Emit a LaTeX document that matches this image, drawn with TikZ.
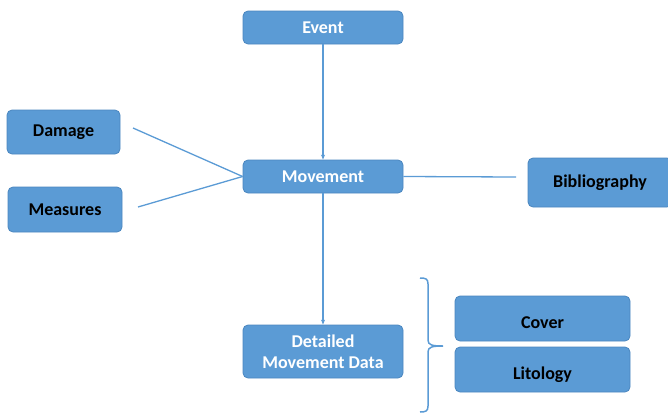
\documentclass[tikz,border=0pt]{standalone}
\usepackage{fontspec}
\setmainfont{Carlito}
\usetikzlibrary{arrows.meta}
\definecolor{boxfill}{HTML}{5B9BD5}
\definecolor{boxline}{HTML}{4A86BF}
\definecolor{conn}{HTML}{5B9BD5}
\begin{document}
\begin{tikzpicture}[x=1pt,y=-1pt,
  box/.style={draw=boxline, line width=0.8pt, fill=boxfill, rounded corners=5pt, inner sep=0pt, align=center, font=\fontsize{18}{21}\selectfont\bfseries},
  wbox/.style={box, text=white},
  kbox/.style={box, text=black},
  lowtext/.style={text height=20pt, text depth=1pt},
  link/.style={draw=conn, line width=1.3pt},
  arr/.style={link, -{Stealth[length=5pt,width=4pt]}}]
\useasboundingbox (0,0) rectangle (668,415);
\node[wbox, minimum width=160pt, minimum height=33pt] (event) at (323,27.5) {Event};
\node[wbox, minimum width=160pt, minimum height=33pt] (move) at (323,176.5) {Movement};
\node[kbox, minimum width=113pt, minimum height=44pt] (damage) at (63.5,132) {Damage};
\node[kbox, minimum width=114pt, minimum height=45pt] (meas) at (65,209.5) {Measures};
\node[kbox, minimum width=144pt, minimum height=49pt] (bib) at (600,182.5) {Bibliography};
\node[wbox, minimum width=160pt, minimum height=53pt] (det) at (323,351.5) {Detailed\\Movement Data};
\node[kbox, lowtext, minimum width=175pt, minimum height=45pt] (cover) at (542.5,318.5) {Cover};
\node[kbox, lowtext, minimum width=175pt, minimum height=45pt] (lito) at (542.5,369.5) {Litology};
\coordinate (dl) at (133,128);
\coordinate (ml) at (138,207);
\coordinate (bl) at (516,177);
\draw[arr] (event) -- (move);
\draw[arr] (move) -- (det);
\draw[link] (dl) -- (move.west);
\draw[link] (ml) -- (move.west);
\draw[link] (move.east) -- (bl);
\draw[link, line width=1.5pt] (420,278) .. controls (426,278) and (428,279) .. (428,284) -- (428,340)
  .. controls (428,345) and (432,346) .. (443,346) .. controls (432,346) and (428,347) .. (428,352)
  -- (428,406) .. controls (428,411) and (426,412) .. (420,412);
\end{tikzpicture}
\end{document}
